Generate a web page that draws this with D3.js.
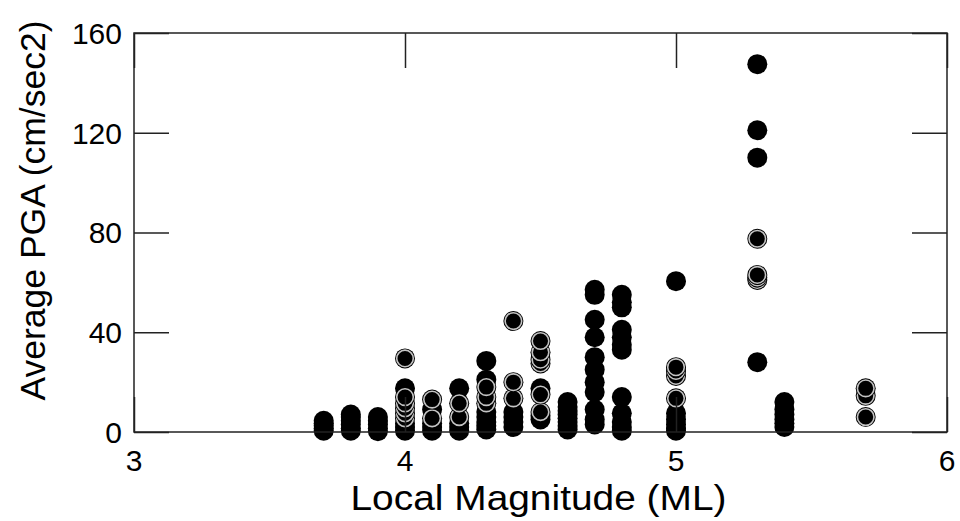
<!DOCTYPE html>
<html>
<head>
<meta charset="utf-8">
<script src="https://cdn.jsdelivr.net/npm/d3@7"></script>
<style>
  body { margin: 0; background: #fff; }
  text { font-family: "Liberation Sans", Arial, sans-serif; fill: #000; }
</style>
</head>
<body>
<div id="chart"></div>
<script>
// magnitude columns with PGA values (cm/sec2)
const filledGroups = [
  { ml: 3.7, pga: [0.5, 1.5, 2.5, 3.5, 4.5] },
  { ml: 3.8, pga: [0.5, 1.5, 3, 4.5, 6, 7] },
  { ml: 3.9, pga: [0.3, 1.5, 3, 4.5, 6] },
  { ml: 4.0, pga: [0.5, 2, 3.5, 17.5] },
  { ml: 4.1, pga: [0.5, 2, 3.5, 9] },
  { ml: 4.2, pga: [0.5, 2, 3.5, 17.5] },
  { ml: 4.3, pga: [1, 2.5, 4, 6, 8, 21, 28.5] },
  { ml: 4.4, pga: [2, 4, 6, 8] },
  { ml: 4.5, pga: [5, 6.5, 17.5] },
  { ml: 4.6, pga: [1, 2.5, 4, 5.5, 7, 8.5, 10, 12] },
  { ml: 4.7, pga: [3, 5, 9, 16, 20, 25, 30, 38, 45, 55, 57] },
  { ml: 4.8, pga: [0.5, 2, 4, 7.5, 14, 33, 35, 38, 41, 50, 52, 55] },
  { ml: 5.0, pga: [0.5, 1.5, 3, 5, 7.5, 60.5] },
  { ml: 5.3, pga: [28, 110, 121, 147.5] },
  { ml: 5.4, pga: [2, 3.5, 5, 7, 9, 12] }
];

const ringGroups = [
  { ml: 4.0, pga: [5.5, 7.5, 9.5, 11.5, 14, 29.5] },
  { ml: 4.1, pga: [5.5, 13] },
  { ml: 4.2, pga: [6, 11.5] },
  { ml: 4.3, pga: [11.5, 14, 18] },
  { ml: 4.4, pga: [13.5, 20, 44.5] },
  { ml: 4.5, pga: [8, 15, 27.5, 29, 32, 36.5] },
  { ml: 5.0, pga: [13.5, 22.5, 24.5, 26] },
  { ml: 5.3, pga: [61, 62, 63, 77.5] },
  { ml: 5.7, pga: [6, 14.5, 17.5] }
];

const xTicks = [3, 4, 5, 6];
const yTicks = [0, 40, 80, 120, 160];

const width = 960, height = 521;
const margin = { top: 33, right: 13, bottom: 89, left: 134 };
const innerW = width - margin.left - margin.right;
const innerH = height - margin.top - margin.bottom;
const tickLen = 35;

const svg = d3.select("#chart").append("svg")
  .attr("width", width)
  .attr("height", height);

const g = svg.append("g")
  .attr("transform", `translate(${margin.left}, ${margin.top})`);

const x = d3.scaleLinear().domain([3, 6]).range([0, innerW]);
const y = d3.scaleLinear().domain([0, 160]).range([innerH, 0]);

function flatten(groups) {
  const out = [];
  groups.forEach(gr => gr.pga.forEach(v => out.push({ ml: gr.ml, pga: v })));
  return out;
}

// points
g.selectAll(".filled")
  .data(flatten(filledGroups))
  .enter()
  .append("circle")
  .attr("class", "filled")
  .attr("cx", d => x(d.ml))
  .attr("cy", d => y(d.pga))
  .attr("r", 10)
  .attr("fill", "#000");

const rings = g.selectAll(".ring")
  .data(flatten(ringGroups))
  .enter()
  .append("g")
  .attr("class", "ring")
  .attr("transform", d => `translate(${x(d.ml)}, ${y(d.pga)})`);
rings.append("circle").attr("r", 10).attr("fill", "#000");
rings.append("circle").attr("r", 8.3)
  .attr("fill", "none")
  .attr("stroke", "#c4c4c4")
  .attr("stroke-width", 1.6);

// frame and inward ticks
const axisColor = "#222";
g.append("rect")
  .attr("width", innerW)
  .attr("height", innerH)
  .attr("fill", "none")
  .attr("stroke", axisColor)
  .attr("stroke-width", 1.5);

const xAxisBottom = d3.axisBottom(x).tickValues(xTicks).tickSize(-tickLen).tickFormat("");
const xAxisTop = d3.axisTop(x).tickValues(xTicks).tickSize(-tickLen).tickFormat("");
const yAxisLeft = d3.axisLeft(y).tickValues(yTicks).tickSize(-tickLen).tickFormat("");
const yAxisRight = d3.axisRight(y).tickValues(yTicks).tickSize(-tickLen).tickFormat("");

g.append("g").attr("transform", `translate(0, ${innerH})`).call(xAxisBottom);
g.append("g").call(xAxisTop);
g.append("g").call(yAxisLeft);
g.append("g").attr("transform", `translate(${innerW}, 0)`).call(yAxisRight);

g.selectAll(".domain").remove();
g.selectAll(".tick line").attr("stroke", axisColor).attr("stroke-width", 1.5);

// tick labels
g.selectAll(".xlab")
  .data(xTicks)
  .enter()
  .append("text")
  .attr("x", d => x(d))
  .attr("y", innerH + 39)
  .attr("text-anchor", "middle")
  .style("font-size", "30px")
  .text(d => d);

g.selectAll(".ylab")
  .data(yTicks)
  .enter()
  .append("text")
  .attr("x", -12)
  .attr("y", d => y(d))
  .attr("dy", "0.36em")
  .attr("text-anchor", "end")
  .style("font-size", "30px")
  .text(d => d);

// axis titles
g.append("text")
  .attr("x", innerW / 2 - 2)
  .attr("y", innerH + 78)
  .attr("text-anchor", "middle")
  .attr("textLength", 376)
  .attr("lengthAdjust", "spacingAndGlyphs")
  .style("font-size", "35px")
  .text("Local Magnitude (ML)");

g.append("text")
  .attr("transform", "rotate(-90)")
  .attr("x", -(innerH / 2 - 22))
  .attr("y", -margin.left + 45)
  .attr("text-anchor", "middle")
  .attr("textLength", 380)
  .attr("lengthAdjust", "spacingAndGlyphs")
  .style("font-size", "35px")
  .text("Average PGA (cm/sec2)");
</script>
</body>
</html>
